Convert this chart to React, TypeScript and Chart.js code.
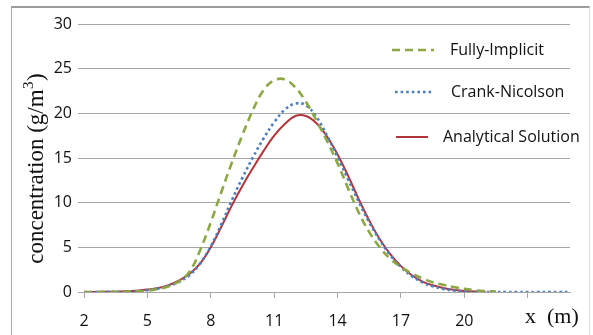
import React, { useEffect, useRef } from "react";
import { Chart, registerables } from "chart.js";

Chart.register(...registerables);

const xValues = [2, 2.5, 3, 3.5, 4, 4.5, 5, 5.5, 6, 6.5, 7, 7.5, 8, 8.5, 9, 9.5, 10, 10.5, 11, 11.5, 12, 12.5, 13, 13.5, 14, 14.5, 15, 15.5, 16, 16.5, 17, 17.5, 18, 18.5, 19, 19.5, 20, 20.5, 21, 21.5, 22, 22.5, 23, 23.5, 24, 24.5, 25];

const fullyImplicit = [0, 0, 0.01, 0.02, 0.03, 0.07, 0.15, 0.33, 0.65, 1.2, 2.3, 4.7, 7.8, 11.2, 14.5, 17.6, 20.4, 22.6, 23.7, 23.8, 22.9, 21.3, 19.2, 16.9, 14.4, 11.6, 8.9, 6.7, 5.0, 3.7, 2.8, 2.1, 1.55, 1.1, 0.8, 0.55, 0.35, 0.2, 0.1, 0.05, null, null, null, null, null, null, null];

const crankNicolson = [0, 0, 0.01, 0.02, 0.05, 0.1, 0.2, 0.38, 0.68, 1.15, 1.9, 3.2, 5.1, 7.6, 10.3, 12.8, 15.1, 17.2, 19.0, 20.4, 21.1, 20.9, 19.6, 17.5, 15.1, 12.6, 10.1, 7.8, 5.8, 4.1, 2.8, 1.8, 1.1, 0.65, 0.35, 0.18, 0.08, 0.03, 0.01, 0, 0, 0, 0, 0, 0, 0, 0];

const analytical = [0, 0.01, 0.02, 0.04, 0.08, 0.15, 0.27, 0.45, 0.75, 1.3, 2.05, 3.2, 5.0, 7.3, 9.7, 11.9, 13.9, 15.8, 17.5, 18.8, 19.7, 19.7, 18.9, 17.4, 15.4, 13.0, 10.4, 8.0, 5.9, 4.2, 2.9, 1.9, 1.2, 0.75, 0.45, 0.25, 0.12, 0.05, 0.02, null, null, null, null, null, null, null, null];

const xTicks = [2, 5, 8, 11, 14, 17, 20, 23];
const yTicks = [0, 5, 10, 15, 20, 25, 30];
const seriesNames = ["Fully-Implicit", "Crank-Nicolson", "Analytical Solution"];
const yTitle = "concentration (g/m";
const yTitleSup = "3";
const xTitle = ["x", "(m)"];

const GREEN = "#8DA843";
const BLUE = "#4A7EBF";
const RED = "#B2353A";
const GRID = "#A6A6A6";
const TICK_FONT = "'Open Sans'";

function toPoints(ys: (number | null)[]) {
  return xValues.map((x, i) => ({ x, y: ys[i] }));
}

const extrasPlugin = {
  id: "extras",
  afterDraw(chart: any) {
    const ctx = chart.ctx as CanvasRenderingContext2D;
    ctx.save();
    ctx.fillStyle = "#111";
    ctx.textBaseline = "middle";
    const mainFont = "23px 'Liberation Serif'";
    const supFont = "15px 'Liberation Serif'";
    ctx.font = mainFont;
    const w1 = ctx.measureText(yTitle).width;
    ctx.font = supFont;
    const w2 = ctx.measureText(yTitleSup).width;
    ctx.font = mainFont;
    const w3 = ctx.measureText(")").width;
    const total = w1 + w2 + w3;
    ctx.translate(37, 169);
    ctx.rotate(-Math.PI / 2);
    ctx.textAlign = "left";
    const x0 = -total / 2;
    ctx.font = mainFont;
    ctx.fillText(yTitle, x0, 0);
    ctx.font = supFont;
    ctx.fillText(yTitleSup, x0 + w1 + 0.5, -8);
    ctx.font = mainFont;
    ctx.fillText(")", x0 + w1 + w2 + 1, 0);
    ctx.restore();

    ctx.save();
    ctx.fillStyle = "#111";
    ctx.textBaseline = "middle";
    ctx.textAlign = "left";
    ctx.font = "22px 'Liberation Serif'";
    ctx.fillText(xTitle[0], 525, 317);
    ctx.fillText(xTitle[1], 547, 317);
    ctx.restore();

    const items = [
      { y: 50, x1: 392, x2: 434, tx: 450 },
      { y: 92, x1: 395, x2: 434, tx: 451 },
      { y: 137, x1: 396, x2: 428, tx: 443 },
    ];
    chart.data.datasets.forEach((ds: any, i: number) => {
      const it = items[i];
      ctx.save();
      ctx.strokeStyle = ds.borderColor;
      ctx.lineWidth = ds.borderWidth;
      ctx.setLineDash(ds.borderDash || []);
      ctx.beginPath();
      ctx.moveTo(it.x1, it.y);
      ctx.lineTo(it.x2, it.y);
      ctx.stroke();
      ctx.setLineDash([]);
      ctx.fillStyle = "#111";
      ctx.font = "16px " + TICK_FONT;
      ctx.textBaseline = "middle";
      ctx.textAlign = "left";
      ctx.fillText(seriesNames[i], it.tx, it.y);
      ctx.restore();
    });
  },
};

export default function App() {
  const ref = useRef<HTMLCanvasElement | null>(null);
  useEffect(() => {
    if (!ref.current) return;
    const chart = new Chart(ref.current, {
      type: "line",
      data: {
        datasets: [
          {
            label: seriesNames[0],
            data: toPoints(fullyImplicit),
            borderColor: GREEN,
            borderWidth: 2.6,
            borderDash: [8, 5],
            pointRadius: 0,
            tension: 0.4,
          },
          {
            label: seriesNames[1],
            data: toPoints(crankNicolson),
            borderColor: BLUE,
            borderWidth: 2.6,
            borderDash: [2.6, 3],
            pointRadius: 0,
            tension: 0.4,
          },
          {
            label: seriesNames[2],
            data: toPoints(analytical),
            borderColor: RED,
            borderWidth: 2,
            pointRadius: 0,
            tension: 0.4,
          },
        ],
      } as any,
      options: {
        animation: false,
        responsive: false,
        maintainAspectRatio: false,
        events: [],
        layout: { padding: { left: 0, right: 23, top: 24, bottom: 0 } },
        plugins: {
          legend: { display: false },
          tooltip: { enabled: false },
        },
        scales: {
          x: {
            type: "linear",
            min: 2,
            max: 25,
            afterBuildTicks: (scale: any) => {
              scale.ticks = xTicks.map((v) => ({ value: v }));
            },
            afterFit: (scale: any) => {
              scale.height = 43;
            },
            ticks: {
              autoSkip: false,
              maxRotation: 0,
              color: "#111",
              padding: 14,
              font: { family: TICK_FONT, size: 16 },
              callback: (v: any) => (v === 23 ? "" : String(v)),
            },
            grid: {
              drawOnChartArea: false,
              drawTicks: true,
              tickLength: 6,
              color: GRID,
            },
            border: { display: true, color: GRID, width: 1 },
          },
          y: {
            min: 0,
            max: 30,
            afterBuildTicks: (scale: any) => {
              scale.ticks = yTicks.map((v) => ({ value: v }));
            },
            afterFit: (scale: any) => {
              scale.width = 84;
            },
            ticks: {
              color: "#111",
              padding: 6,
              font: { family: TICK_FONT, size: 16 },
            },
            grid: {
              color: GRID,
              tickLength: 6,
              lineWidth: 1,
            },
            border: { display: false },
          },
        },
      } as any,
      plugins: [extrasPlugin],
    });
    return () => chart.destroy();
  }, []);

  return (
    <div style={{ position: "fixed", left: 0, top: 0, width: 593, height: 335, background: "#fff", overflow: "hidden" }}>
      <div
        style={{
          position: "absolute",
          left: 11,
          top: 6,
          width: 579,
          height: 340,
          borderTop: "2px solid #9c9c9c",
          borderLeft: "1px solid #a8a8a8",
          borderRight: "1px solid #dcdcdc",
          boxSizing: "border-box",
        }}
      />
      <canvas ref={ref} width={593} height={335} style={{ position: "absolute", left: 0, top: 0, width: 593, height: 335 }} />
    </div>
  );
}
